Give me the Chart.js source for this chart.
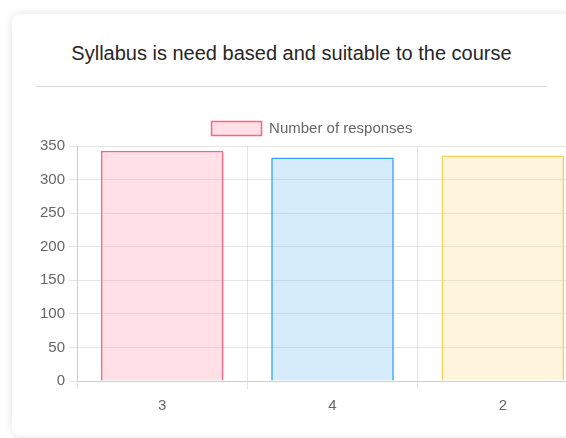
<!DOCTYPE html>
<html>
<head>
<meta charset="utf-8">
<script src="https://cdn.jsdelivr.net/npm/chart.js@4.4.0/dist/chart.umd.min.js"></script>
<style>
  html, body {
    margin: 0;
    padding: 0;
    width: 566px;
    height: 438px;
    overflow: hidden;
    background: #fff;
    font-family: "Liberation Sans", Arial, sans-serif;
  }
  .card {
    position: absolute;
    left: 12px;
    top: 14px;
    width: 600px;
    height: 422px;
    background: #fff;
    border-radius: 8px;
    box-shadow: 0 0 8px rgba(0, 0, 0, 0.12);
  }
  .card h3 {
    position: absolute;
    left: 24px;
    top: 28px;
    width: 511px;
    margin: 0;
    text-align: center;
    font-weight: normal;
    font-size: 20px;
    color: #262626;
  }
  .card hr {
    position: absolute;
    left: 24px;
    top: 72px;
    width: 511px;
    margin: 0;
    border: none;
    border-top: 1.5px solid #d6d6d6;
  }
  .chart-box {
    position: absolute;
    left: 24px;
    top: 97px;
    width: 552px;
    height: 312px;
  }
</style>
</head>
<body>
<div class="card">
  <h3>Syllabus is need based and suitable to the course</h3>
  <hr>
  <div class="chart-box"><canvas id="chart"></canvas></div>
</div>
<script>
// data
const categories = ['3', '4', '2'];
const responses = [343, 333, 336];
const fillColors = ['rgba(255, 99, 132, 0.2)', 'rgba(54, 162, 235, 0.2)', 'rgba(255, 206, 86, 0.2)'];
const lineColors = ['rgba(255, 99, 132, 1)', 'rgba(54, 162, 235, 1)', 'rgba(255, 206, 86, 1)'];

Chart.defaults.font.family = '"Liberation Sans", Arial, sans-serif';
Chart.defaults.color = '#666';

new Chart(document.getElementById('chart'), {
    type: 'bar',
    data: {
        labels: categories,
        datasets: [{
            label: 'Number of responses',
            data: responses,
            backgroundColor: fillColors,
            borderColor: lineColors,
            borderWidth: 1.5
        }]
    },
    options: {
        responsive: true,
        maintainAspectRatio: false,
        animation: false,
        plugins: {
            legend: {
                labels: {
                    boxWidth: 50,
                    boxHeight: 14,
                    font: { size: 15 }
                }
            },
            tooltip: { enabled: false }
        },
        scales: {
            x: {
                grid: { color: 'rgba(0, 0, 0, 0.1)', tickLength: 8 },
                ticks: { font: { size: 15 }, padding: 8 }
            },
            y: {
                beginAtZero: true,
                max: 350,
                grid: { color: 'rgba(0, 0, 0, 0.1)', tickLength: 8 },
                ticks: { stepSize: 50, font: { size: 15 }, padding: 4 }
            }
        }
    }
});
</script>
</body>
</html>
